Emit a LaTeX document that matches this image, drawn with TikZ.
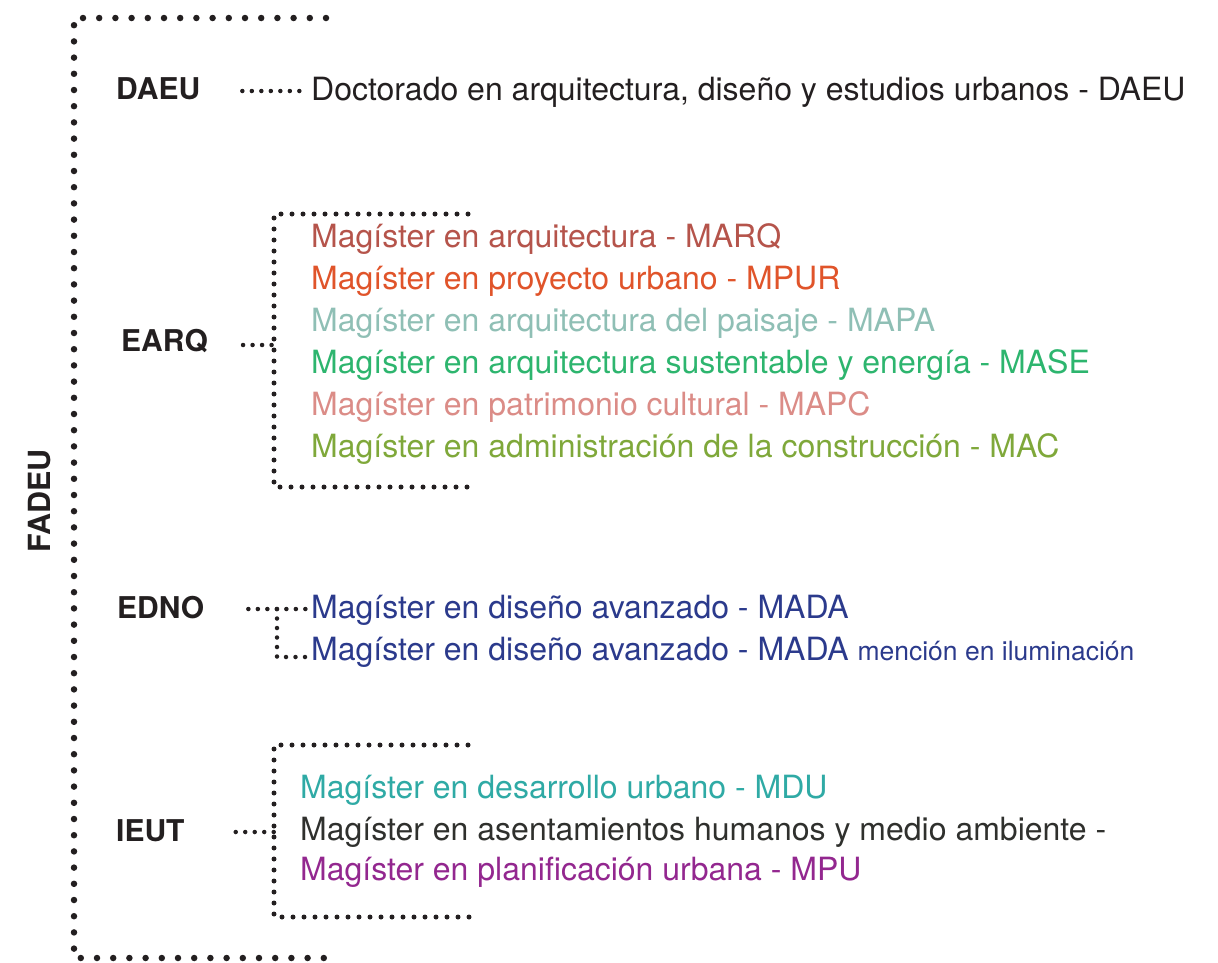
\documentclass[tikz,border=0pt]{standalone}
\usepackage{fontspec}
\setmainfont{TeX Gyre Heros}
\definecolor{marqcol}{HTML}{B5544B}
\definecolor{mpurcol}{HTML}{E0542A}
\definecolor{mapacol}{HTML}{8FBFB5}
\definecolor{masecol}{HTML}{2DB56E}
\definecolor{mapccol}{HTML}{DB8C87}
\definecolor{maccol}{HTML}{7FA83A}
\definecolor{madacol}{HTML}{2B3A8C}
\definecolor{mducol}{HTML}{2FAAA5}
\definecolor{mahcol}{HTML}{2F302D}
\definecolor{mpucol}{HTML}{93278F}
\definecolor{inkcol}{HTML}{231F20}
\begin{document}
\begin{tikzpicture}[x=1pt, y=-1pt,
	school/.style={anchor=base west, inner sep=0pt, font=\fontsize{30}{34}\selectfont\bfseries, text=inkcol},
	prog/.style={anchor=base west, inner sep=0pt, font=\fontsize{32}{36}\selectfont},
	bigdots/.style={inkcol, line width=6.5pt, line cap=round, dash pattern=on 0pt off 16.2pt},
	boxdots/.style={inkcol, line width=5pt, line cap=round, dash pattern=on 0pt off 11pt},
	linkdots/.style={inkcol, line width=4.5pt, line cap=round, dash pattern=on 0pt off 9.5pt}]
\useasboundingbox (0,0) rectangle (1218,962);
% faculty bracket
\draw[bigdots] (326,18) -- (74,18) -- (74,958) -- (326,958);
\node[font=\fontsize{30.5}{34}\selectfont\bfseries, text=inkcol, rotate=90] (fadeu) at (40,501) {FADEU};
% schools
\node[school] (daeu) at (116,99) {DAEU};
\node[school] (earq) at (121,351) {EARQ};
\node[school] (edno) at (117,618) {EDNO};
\node[school] (ieut) at (116,841) {IEUT};
% programmes
\node[prog, text=inkcol] (doc) at (311,100) {Doctorado en arquitectura, diseño y estudios urbanos - DAEU};
\node[prog, text=marqcol] (marq) at (311,247) {Magíster en arquitectura - MARQ};
\node[prog, text=mpurcol] (mpur) at (311,289) {Magíster en proyecto urbano - MPUR};
\node[prog, text=mapacol] (mapa) at (311,331) {Magíster en arquitectura del paisaje - MAPA};
\node[prog, text=masecol] (mase) at (311,373) {Magíster en arquitectura sustentable y energía - MASE};
\node[prog, text=mapccol] (mapc) at (311,415) {Magíster en patrimonio cultural - MAPC};
\node[prog, text=maccol] (mac) at (311,457) {Magíster en administración de la construcción - MAC};
\node[prog, text=madacol] (mada) at (311,618) {Magíster en diseño avanzado - MADA};
\node[prog, text=madacol] (madailu) at (311,660) {Magíster en diseño avanzado - MADA {\fontsize{26.5}{29}\selectfont mención en iluminación}};
\node[prog, text=mducol] (mdu) at (300,798) {Magíster en desarrollo urbano - MDU};
\node[prog, text=mahcol] (mah) at (300,840) {Magíster en asentamientos humanos y medio ambiente -};
\node[prog, text=mpucol] (mpu) at (300,880) {Magíster en planificación urbana - MPU};
% brackets of the schools
\coordinate (earqtop) at (274,214);
\coordinate (earqbot) at (274,487);
\coordinate (ieuttop) at (274,745);
\coordinate (ieutbot) at (274,917);
\draw[boxdots] (468,214) -- (earqtop) -- (earqbot) -- (472,487);
\draw[boxdots] (468,745) -- (ieuttop) -- (ieutbot) -- (472,917);
% links
\draw[linkdots] ([xshift=42pt, yshift=8pt]daeu.base east) -- ([xshift=-11pt, yshift=9pt]doc.base west);
\draw[linkdots] ([xshift=35pt, yshift=6pt]earq.base east) -- (274,345);
\draw[linkdots] ([xshift=44pt, yshift=9pt]edno.base east) -- ([xshift=-3pt, yshift=9pt]mada.base west);
\draw[linkdots] (277,609) -- (277,657) -- ([xshift=-3pt, yshift=3pt]madailu.base west);
\draw[linkdots] ([xshift=51pt, yshift=9pt]ieut.base east) -- (274,832);
\end{tikzpicture}
\end{document}
